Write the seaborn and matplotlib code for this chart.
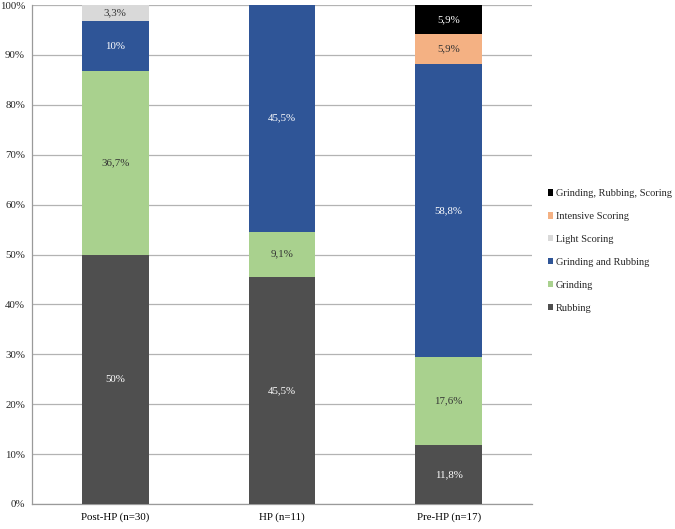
import numpy as np
import seaborn as sns
import matplotlib.pyplot as plt
from matplotlib.patches import Patch
from matplotlib.ticker import FuncFormatter

# data (percent of each group)
groups = ["Post-HP (n=30)", "HP (n=11)", "Pre-HP (n=17)"]
series = ["Rubbing", "Grinding", "Grinding and Rubbing",
          "Light Scoring", "Intensive Scoring", "Grinding, Rubbing, Scoring"]
rubbing = [50.0, 45.5, 11.8]
grinding = [36.7, 9.1, 17.6]
grinding_rubbing = [10.0, 45.5, 58.8]
light_scoring = [3.3, 0.0, 0.0]
intensive_scoring = [0.0, 0.0, 5.9]
grinding_rubbing_scoring = [0.0, 0.0, 5.9]

values = [rubbing, grinding, grinding_rubbing,
          light_scoring, intensive_scoring, grinding_rubbing_scoring]
colors = ["#4f4f4f", "#a9d18e", "#2f5597", "#d9d9d9", "#f4b183", "#000000"]
text_colors = ["white", "#333333", "white", "#333333", "#333333", "white"]

sns.set_style("white")
plt.rcParams["font.family"] = ["Liberation Serif", "DejaVu Serif"]
fs = 7.8

fig = plt.figure(figsize=(6.75, 5.29), dpi=100)
ax = fig.add_axes([0.0474, 0.0473, 0.7407, 0.9432])

bottom = np.zeros(len(groups))
for name, vals, col, tcol in zip(series, values, colors, text_colors):
    vals = np.array(vals)
    sns.barplot(x=groups, y=vals, bottom=bottom, color=col, width=0.4,
                saturation=1, ax=ax, zorder=3, linewidth=0, edgecolor="none")
    # value labels centred in each segment
    for i, v in enumerate(vals):
        if v > 0:
            lab = f"{v:g}".replace(".", ",") + "%"
            ax.text(i, bottom[i] + v / 2, lab, ha="center", va="center",
                    color=tcol, fontsize=fs, zorder=4)
    bottom = bottom + vals

ax.set_ylim(0, 100)
ax.set_xlim(-0.5, 2.5)
ax.set_yticks(np.arange(0, 101, 10))
ax.yaxis.set_major_formatter(FuncFormatter(lambda y, _: f"{y:.0f}%"))
ax.yaxis.grid(True, color="#b3b3b3", linewidth=0.9, zorder=0)
ax.set_axisbelow(True)

for s in ["top", "right"]:
    ax.spines[s].set_visible(False)
for s in ["left", "bottom"]:
    ax.spines[s].set_color("#9a9a9a")
    ax.spines[s].set_linewidth(0.9)

ax.set_xticks([-0.5, 0.5, 1.5, 2.5], minor=True)
ax.tick_params(axis="x", which="major", length=0, labelsize=fs, pad=6, colors="black")
ax.tick_params(axis="x", which="minor", length=4, color="#9a9a9a", width=0.9)
ax.tick_params(axis="y", length=3, color="#9a9a9a", width=0.9, labelsize=fs, pad=2)
ax.set_xlabel("")
ax.set_ylabel("")

handles = [Patch(facecolor=c, edgecolor="none", label=n)
           for n, c in zip(series, colors)][::-1]
fig.legend(handles=handles, loc="upper left", bbox_to_anchor=(0.805, 0.650),
           frameon=False, fontsize=7.5, handlelength=0.55, handleheight=0.55,
           handletextpad=0.25, labelspacing=1.33, borderaxespad=0)

fig.savefig("out.png", dpi=100)
